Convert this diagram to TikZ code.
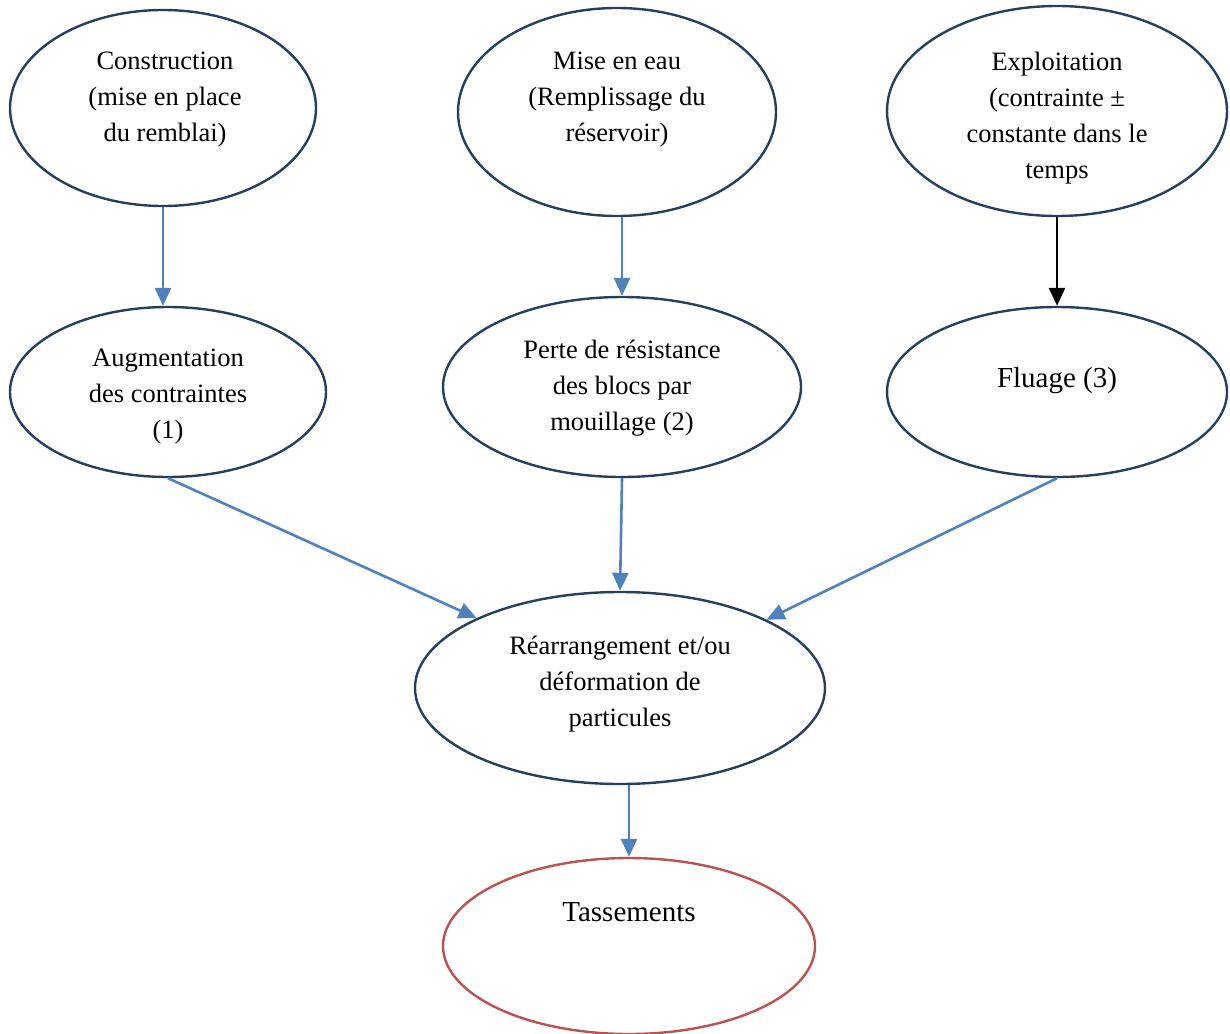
\documentclass[tikz,border=0pt]{standalone}
\usepackage{fontspec}
\setmainfont{Liberation Serif}
\usetikzlibrary{shapes.geometric,arrows.meta}
\definecolor{navy}{HTML}{243F60}
\definecolor{linkblue}{HTML}{4F81BD}
\definecolor{tasred}{HTML}{C0504D}
\begin{document}
\begin{tikzpicture}[x=1pt,y=-1pt,
  cause/.style={ellipse,draw=navy,line width=2.4pt,inner sep=0pt},
  txt/.style={align=center,inner sep=0pt,font=\fontsize{26.5}{36}\selectfont},
  bigtxt/.style={inner sep=0pt,font=\fontsize{29}{36}\selectfont},
  link/.style={draw=linkblue,line width=2.6pt,-{Triangle[width=16pt,length=18pt]}}]
\useasboundingbox (0,0) rectangle (1230,1033);
\node[cause,minimum width=306,minimum height=196] (constr) at (163,108) {};
\node[cause,minimum width=318,minimum height=208] (eau) at (617,112) {};
\node[cause,minimum width=340,minimum height=210] (exploit) at (1057,111) {};
\node[cause,minimum width=316,minimum height=170] (augm) at (168,392) {};
\node[cause,minimum width=358,minimum height=180] (perte) at (622,387) {};
\node[cause,minimum width=340,minimum height=170] (fluage) at (1057,392) {};
\node[cause,minimum width=410,minimum height=192] (rearr) at (620,688) {};
\node[cause,draw=tasred,minimum width=372,minimum height=176] (tass) at (629,946) {};
\node[txt] (constrtxt) at (165,100) {Construction\\(mise en place\\du remblai)};
\node[txt] (eautxt) at (617,100) {Mise en eau\\(Remplissage du\\réservoir)};
\node[txt] (exploittxt) at (1057,118) {Exploitation\\(contrainte ±\\constante dans le\\temps};
\node[txt] (augmtxt) at (168,397) {Augmentation\\des contraintes\\(1)};
\node[txt] (pertetxt) at (622,388) {Perte de résistance\\des blocs par\\mouillage (2)};
\node[bigtxt] (fluagetxt) at (1057,381) {Fluage (3)};
\node[txt] (rearrtxt) at (620,684) {Réarrangement et/ou\\déformation de\\particules};
\node[bigtxt] (tasstxt) at (629,912) {Tassements};
\draw[link] (constr.south) -- (constr.south |- augm.north);
\draw[link] (perte.north |- eau.south) -- (perte.north);
\draw[line width=2.6pt,-{Triangle[width=16pt,length=18pt]}] (exploit.south) -- (fluage.north);
\draw[link] (augm.south) -- (rearr.154);
\draw[link] (perte.south) -- (rearr.north);
\draw[link] (fluage.south) -- (rearr.25);
\draw[link] (tass.north |- rearr.south) -- (tass.north);
\end{tikzpicture}
\end{document}
